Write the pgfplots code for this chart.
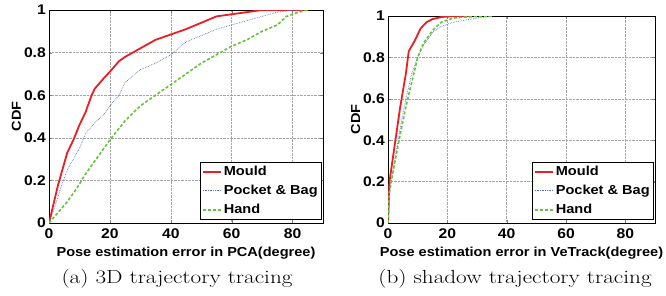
\documentclass[border=0pt]{standalone}
\usepackage{fontspec}
\usepackage{pgfplots}
\pgfplotsset{compat=1.18}
\newfontfamily\af{Liberation Sans}[FakeStretch=1.12]
\newfontfamily\capf{Latin Modern Roman}[FakeStretch=1.22]
\definecolor{mred}{RGB}{235,30,35}
\definecolor{mblue}{RGB}{90,110,210}
\definecolor{mgreen}{RGB}{100,195,60}
\pgfplotsset{cdfstyle/.style={
  scale only axis, xmin=0, xmax=90, ymin=0, ymax=1,
  xtick={0,20,40,60,80}, ytick={0,0.2,0.4,0.6,0.8,1},
  grid=major, grid style={densely dotted, gray!70, line width=0.5pt},
  tick align=inside, major tick length=3pt,
  axis line style={line width=0.6pt},
  /pgf/number format/assume math mode=true,
  tick label style={font=\af\bfseries\fontsize{14}{16}\selectfont},
  xticklabel style={anchor=base, yshift=-15pt},
  yticklabel style={inner sep=0pt, xshift=-3pt},
  label style={font=\af\bfseries\fontsize{13}{15}\selectfont},
  xlabel style={at={(rel axis cs:0.5,0)}, anchor=base, yshift=-33.5pt},
  ylabel style={at={(rel axis cs:0,0.5)}, anchor=base, yshift=28pt},
  ylabel={CDF},
  legend cell align=left,
  legend style={at={(rel axis cs:1,0)}, anchor=south east, xshift=-1pt, yshift=3pt,
    font=\af\bfseries\fontsize{13}{15}\selectfont, draw=black, line width=0.6pt,
    inner xsep=2pt, inner ysep=2.5pt, row sep=4pt},
  legend image code/.code={\draw[#1] (0pt,0pt) -- (18pt,0pt);},
}}
\begin{document}
\begin{tikzpicture}
\path[use as bounding box] (0,0) rectangle (666pt,295pt);
\begin{axis}[cdfstyle, at={(49pt,72pt)}, anchor=south west, width=274pt, height=213pt,
  xlabel={Pose estimation error in PCA(degree)}]
\addplot[mred, line width=1.8pt] coordinates {(0,0) (1,0.06) (2,0.12) (3,0.18) (4,0.23) (5,0.28) (6,0.33) (8,0.39) (10,0.46) (12,0.52) (14,0.6) (15,0.63) (18,0.68) (20,0.71) (23,0.76) (25,0.78) (30,0.82) (35,0.86) (40,0.885) (45,0.91) (50,0.94) (55,0.97) (60,0.98) (65,0.99) (70,1) (85,1)};
\addlegendentry{Mould}
\addplot[mblue, densely dotted, line width=0.7pt] coordinates {(0,0) (2,0.08) (4,0.17) (6,0.25) (8,0.3) (10,0.35) (12,0.42) (15,0.47) (18,0.51) (20,0.55) (23,0.6) (25,0.66) (30,0.72) (35,0.75) (40,0.79) (45,0.85) (50,0.88) (55,0.91) (60,0.93) (65,0.95) (70,0.97) (75,0.99) (80,1) (85,1)};
\addlegendentry{Pocket \& Bag}
\addplot[mgreen, line width=1.6pt, dash pattern=on 3pt off 2pt] coordinates {(0,0) (3,0.05) (6,0.1) (9,0.16) (12,0.23) (15,0.29) (18,0.35) (20,0.39) (25,0.48) (30,0.55) (35,0.6) (40,0.65) (45,0.7) (50,0.75) (55,0.79) (60,0.83) (65,0.86) (70,0.9) (75,0.93) (78,0.97) (82,0.99) (85,1)};
\addlegendentry{Hand}
\end{axis}
\begin{axis}[cdfstyle, at={(388pt,72pt)}, anchor=south west, width=267pt, height=207pt,
  xlabel={Pose estimation error in VeTrack(degree)}]
\addplot[mred, line width=1.8pt] coordinates {(0,0) (0.5,0.2) (2,0.35) (4,0.55) (6,0.72) (7,0.83) (9,0.88) (11,0.94) (13,0.97) (15,0.985) (18,0.995) (22,1) (28,1)};
\addlegendentry{Mould}
\addplot[mblue, densely dotted, line width=0.7pt] coordinates {(0,0) (0.5,0.15) (2,0.28) (4,0.45) (6,0.6) (8,0.72) (10,0.8) (12,0.86) (15,0.92) (18,0.95) (22,0.97) (26,0.98) (30,0.99) (35,1)};
\addlegendentry{Pocket \& Bag}
\addplot[mgreen, line width=1.6pt, dash pattern=on 3pt off 2pt] coordinates {(0,0) (0.5,0.15) (2,0.27) (4,0.42) (6,0.56) (8,0.68) (10,0.8) (12,0.87) (15,0.93) (18,0.97) (22,0.99) (26,0.995) (35,1)};
\addlegendentry{Hand}
\end{axis}
\node[font=\capf\fontsize{19}{22}\selectfont, anchor=base] at (177pt,12pt) {(a) 3D trajectory tracing};
\node[font=\capf\fontsize{19}{22}\selectfont, anchor=base] at (515pt,12pt) {(b) shadow trajectory tracing};
\end{tikzpicture}
\end{document}
